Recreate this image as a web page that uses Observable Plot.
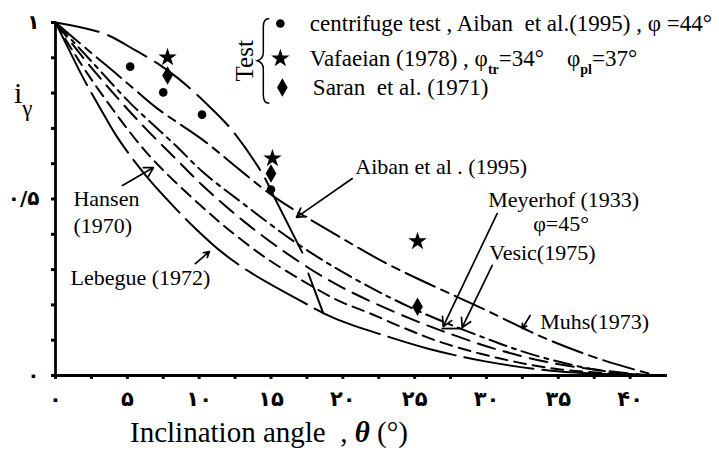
<!DOCTYPE html>
<html><head><meta charset="utf-8">
<script src="https://cdn.jsdelivr.net/npm/d3@7"></script>
<script src="https://cdn.jsdelivr.net/npm/@observablehq/plot@0.6"></script>
<style>
body{margin:0;background:#fff;}
svg{font-family:"Liberation Serif",serif;}
</style></head><body><div id="chart"></div>
<script>
// ---- tick values and labels ----
const thetaTicks = [0,5,10,15,20,25,30,35,40];
const thetaTickLabels = ["۰","۵","۱۰","۱۵","۲۰","۲۵","۳۰","۳۵","۴۰"];
const thetaMinor = [0,2.5,5,7.5,10,12.5,15,17.5,20,22.5,25,27.5,30,32.5,35,37.5,40];
const iTicks = [0,0.5,1];
const iTickLabels = ["۰","۰/۵","۱"];
const iMinor = [0,0.1,0.2,0.3,0.4,0.5,0.6,0.7,0.8,0.9,1];

// ---- curves [theta (deg), i_gamma] ----
const aiban1995 = [[0,1],[3.34,0.969],[5.57,0.921],[7.10,0.884],[8.56,0.841],[10.43,0.773],[12.31,0.694],[14.47,0.567],[14.96,0.527]];
const aibanDrop = [[14.96,0.527],[17.18,0.348]];
const muhs1973 = [[0,1],[0.9,0.969],[2.43,0.916],[3.97,0.864],[5.43,0.813],[7.10,0.756],[10.30,0.666],[12.87,0.581],[15.30,0.504],[19.97,0.388],[23.30,0.312],[29.70,0.190],[34.10,0.105],[38.0,0.045],[41.8,0]];
const meyerhof1933 = [[0,1],[2.57,0.887],[5.22,0.771],[8.35,0.652],[10.30,0.575],[13.22,0.482],[16.70,0.377],[20.03,0.292],[24.70,0.193],[29.77,0.108],[33.39,0.057],[37.91,0.014],[41.4,0]];
const vesic1975 = [[0,1],[2.09,0.892],[4.17,0.793],[6.26,0.700],[8.35,0.615],[10.09,0.544],[13.22,0.433],[17.04,0.320],[19.97,0.249],[24.70,0.161],[28.03,0.110],[30.96,0.071],[35.13,0.031],[41.4,0]];
const hansen1970 = [[0,1],[1.39,0.907],[3.13,0.802],[5.91,0.652],[7.51,0.581],[10.09,0.482],[11.97,0.416],[14.61,0.334],[17.18,0.269],[19.69,0.212],[21.77,0.178],[24.35,0.133],[26.92,0.093],[30.96,0.048],[35.13,0.017],[41.4,0]];
const lebegue1972 = [[0,1],[0.90,0.926],[1.95,0.841],[3.13,0.756],[4.17,0.683],[5.57,0.603],[6.75,0.544],[8.83,0.453],[9.88,0.411],[11.62,0.348],[13.57,0.292],[17.04,0.212],[19.48,0.161],[23.30,0.108],[25.95,0.076],[29.91,0.040],[35.13,0.011],[41.4,0]];
const limitLine = [[17.6,0.289],[18.64,0.176]];

// ---- test points ----
const centrifugeTheta = [5.2,7.5,10.2,15.0];
const centrifugeI = [0.875,0.802,0.739,0.527];
const vafaeianTheta = [7.8,15.1,25.2];
const vafaeianI = [0.901,0.615,0.380];
const saranTheta = [7.8,15.0,25.2];
const saranI = [0.850,0.572,0.195];

// ---- annotation layout ----
const labelLayout = [
  {t:"Hansen", x:1.25, y:0.501},
  {t:"(1970)", x:1.25, y:0.425},
  {t:"Lebegue (1972)", x:1.04, y:0.275},
  {t:"Aiban et al . (1995)", x:20.87, y:0.592},
  {t:"Meyerhof (1933)", x:30.12, y:0.496},
  {t:"φ=45°", x:33.25, y:0.428},
  {t:"Vesic(1975)", x:30.19, y:0.346},
  {t:"Muhs(1973)", x:33.74, y:0.153}
];
const arrowLayout = [
  {x1:4.66,y1:0.538,x2:6.82,y2:0.589},
  {x1:9.74,y1:0.317,x2:10.71,y2:0.351},
  {x1:20.66,y1:0.558,x2:16.77,y2:0.448},
  {x1:30.75,y1:0.459,x2:26.99,y2:0.139},
  {x1:30.40,y1:0.312,x2:28.31,y2:0.136},
  {x1:33.04,y1:0.170,x2:32.49,y2:0.133}
];
const bracketLayout = [{x1:26.9, x2:28.4, y:0.133}];
const legendLayout = [
  {sym:"circle", x:15.65, y:0.997, r:4.3},
  {sym:"star", x:15.65, y:0.898, r:5.8},
  {sym:"diamond", x:15.79, y:0.816, r:5.6}
];

const toXY = a => a.map(([x,y]) => ({x,y}));
const pts = (xs, ys) => xs.map((x,i) => ({x, y: ys[i]}));
const lineOpt = (dash, w=2) => ({x:"x", y:"y", curve:"catmull-rom", stroke:"black", strokeWidth:w, strokeDasharray:dash});

const plot = Plot.plot({
  width: 719, height: 453,
  marginLeft: 55, marginRight: 52, marginTop: 22, marginBottom: 78,
  x: {domain:[0,42.6], axis:null},
  y: {domain:[0,1], axis:null},
  r: {type:"identity"},
  style: {background:"white", fontFamily:"Liberation Serif, serif"},
  marks: [
    Plot.line(toXY(aiban1995), lineOpt("44,10")),
    Plot.line(toXY(aibanDrop), lineOpt(null)),
    Plot.line(toXY(muhs1973), lineOpt("32,7,8,7")),
    Plot.line(toXY(meyerhof1933), lineOpt("18,6,4,6")),
    Plot.line(toXY(vesic1975), lineOpt("18,9")),
    Plot.line(toXY(hansen1970), lineOpt("12,7")),
    Plot.line(toXY(lebegue1972), lineOpt("70,9")),
    Plot.line(toXY(limitLine), lineOpt(null)),
    // axes
    Plot.ruleX(thetaMinor, {x: d=>d, y1:0, y2:-0.011, strokeWidth:3}),
    Plot.ruleY(iMinor, {y: d=>d, x1:0, x2:-0.28, strokeWidth:3}),
    Plot.ruleY([0], {x1:0, x2:42.6, strokeWidth:2.8}),
    Plot.ruleX([0], {y1:0, y2:1, strokeWidth:2.8}),
    Plot.text(thetaTicks, {x:d=>d, y:0, dy:24, text:(d,i)=>thetaTickLabels[i], fontSize:21, fontWeight:"bold", fontFamily:"DejaVu Sans"}),
    Plot.text(iTicks, {x:0, y:d=>d, dx:-16, textAnchor:"end", text:(d,i)=>iTickLabels[i], fontSize:20, fontWeight:"bold", fontFamily:"DejaVu Sans"}),
    // test points
    Plot.dot(pts(centrifugeTheta, centrifugeI), {x:"x", y:"y", symbol:"circle", r:4.3, fill:"black"}),
    Plot.dot(pts(vafaeianTheta, vafaeianI), {x:"x", y:"y", symbol:"star", r:5.8, fill:"black"}),
    Plot.dot(pts(saranTheta, saranI), {x:"x", y:"y", symbol:"diamond", r:5.6, fill:"black"}),
    // legend symbols
    Plot.dot(legendLayout, {x:"x", y:"y", symbol:"sym", r:"r", fill:"black"}),
    // labels & arrows
    Plot.text(labelLayout, {x:"x", y:"y", text:"t", textAnchor:"start", fontSize:22, fontFamily:"Liberation Serif"}),
    Plot.arrow(arrowLayout, {x1:"x1", y1:"y1", x2:"x2", y2:"y2", stroke:"black", strokeWidth:1.7, headLength:9}),
    Plot.ruleY(bracketLayout, {x1:"x1", x2:"x2", y:"y", strokeWidth:1.8})
  ]
});
document.getElementById("chart").appendChild(plot);

const sx = plot.scale("x").apply, sy = plot.scale("y").apply;
const svg = d3.select(plot);
const g = svg.append("g").attr("font-family","Liberation Serif, serif").attr("fill","black").attr("text-anchor","start");

// legend texts
function row(y, parts, x0) {
  const t = g.append("text").attr("x", sx(x0)).attr("y", sy(y)).attr("dy","0.35em").attr("font-size",23);
  parts.forEach(p => {
    if (typeof p === "string") t.append("tspan").text(p);
    else t.append("tspan").attr("baseline-shift","sub").attr("font-size",14).attr("font-weight","bold").text(p.sub);
  });
}
row(0.997, ["centrifuge test , Aiban  et al.(1995) , φ =44°"], 17.74);
row(0.898, ["Vafaeian (1978) , φ", {sub:"tr"}, "=34°    φ", {sub:"pl"}, "=37°"], 17.74);
row(0.816, ["Saran  et al. (1971)"], 17.95);

// "Test" rotated
const tx = sx(13.2), ty = sy(0.89);
g.append("text").attr("transform", `translate(${tx},${ty}) rotate(-90)`).attr("text-anchor","middle").attr("dy","0.35em").attr("font-size",25).text("Test");
// brace
const bx = sx(14.5), bt = sy(1.01), bb = sy(0.77), bm = (bt+bb)/2;
g.append("path").attr("fill","none").attr("stroke","black").attr("stroke-width",1.5)
  .attr("d", `M${bx+6},${bt} q-6,0 -6,8 V${bm-8} q0,6 -6,8 q6,2 6,8 V${bb-8} q0,8 6,8`);

// y-axis title
const yt = g.append("text").attr("x", 14).attr("y", sy(0.77)).attr("font-size",30);
yt.append("tspan").text("i");
yt.append("tspan").attr("baseline-shift","sub").attr("font-size",23).text("γ");

// x-axis title
const xt = g.append("text").attr("x", 130).attr("y", 442).attr("font-size",29);
xt.append("tspan").text("Inclination angle  , ");
xt.append("tspan").attr("font-style","italic").attr("font-weight","bold").text("θ");
xt.append("tspan").text(" (°)");
</script></body></html>
